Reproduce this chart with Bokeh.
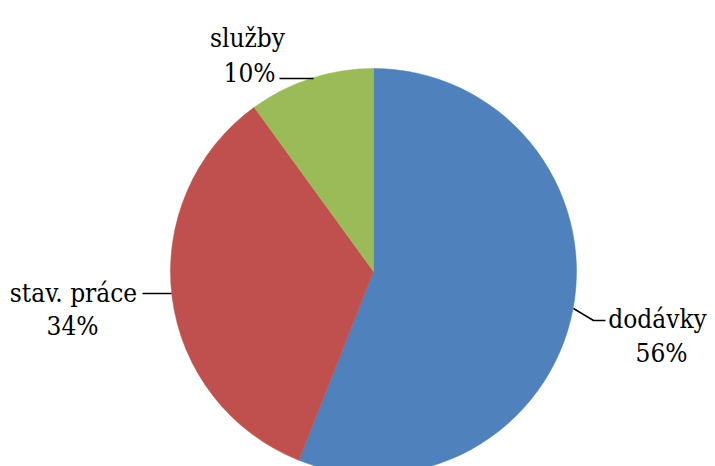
import math
from bokeh.plotting import figure
from bokeh.models import Range1d, ColumnDataSource
from bokeh.core.properties import value
from bokeh.embed import file_html
from bokeh.resources import INLINE

# Data
categories = ["dodávky", "stav. práce", "služby"]
shares = [56, 34, 10]
colors = ["#4F81BD", "#C0504D", "#9BBB59"]

# Layout (page pixel coordinates of the reference, y measured downward)
W, H = 715, 466
PAGE_H = 466
cx, cy, r = 373, 271, 203
FONT = value("DejaVu Serif Condensed")
FSIZE = "26px"

def Y(py):
    return PAGE_H - py

total = float(sum(shares))
starts, ends = [], []
cum = 0.0
for v in shares:
    starts.append(math.pi / 2 - cum / total * 2 * math.pi)
    cum += v
    ends.append(math.pi / 2 - cum / total * 2 * math.pi)

src = ColumnDataSource(dict(x=[cx] * 3, y=[Y(cy)] * 3, start=starts, end=ends,
                            color=colors, cat=categories))

p = figure(width=W, height=H, output_backend="svg", toolbar_location=None,
           x_range=Range1d(0, W), y_range=Range1d(0, H),
           min_border=0, tools="")
p.axis.visible = False
p.grid.visible = False
p.outline_line_color = None
p.background_fill_color = "white"
p.border_fill_color = "white"

p.wedge(x="x", y="y", radius=r, start_angle="start", end_angle="end",
        direction="clock", fill_color="color", line_color="color", line_width=0.5,
        source=src)

label_pos = [(657, 318, 661, 352), (73, 292, 72, 325), (247, 37, 249, 72)]
leaders = [([573, 593, 605], [308, 320, 320]),
           ([142, 171], [293, 293]),
           ([279, 313], [78, 78])]

for i, (cat, v) in enumerate(zip(categories, shares)):
    nx, ny, px, py = label_pos[i]
    p.text(x=[nx], y=[Y(ny)], text=[cat], text_font=FONT,
           text_font_size=FSIZE, text_align="center", text_baseline="alphabetic",
           text_color="black")
    p.text(x=[px], y=[Y(py)], text=[f"{v}%"], text_font=FONT,
           text_font_size=FSIZE, text_align="center", text_baseline="alphabetic",
           text_color="black")
    lx, ly = leaders[i]
    p.line(x=lx, y=[Y(t) for t in ly], line_color="black", line_width=1.5)

open("out.html", "w").write(file_html(p, INLINE))
